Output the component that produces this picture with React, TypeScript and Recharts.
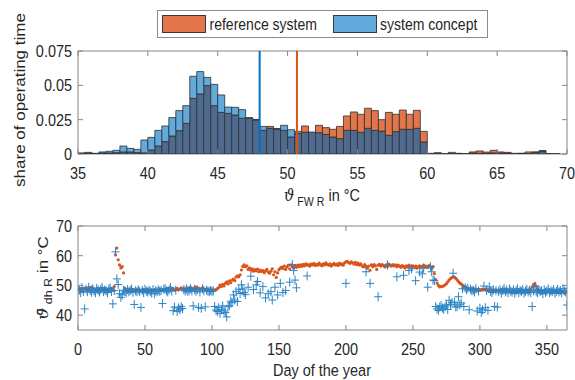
import React from "react";
import {
  BarChart,
  Bar,
  XAxis,
  YAxis,
  ReferenceLine,
  ReferenceArea,
  ScatterChart,
  Scatter,
} from "recharts";

// histogram: share of operating time per 0.5 K bin, 35..70 °C
const refShare = [
  0.0005, 0.0005, 0.0005, 0.0008, 0.0008, 0.001, 0.0015, 0.0015, 0.001, 0.0008,
  0.0029, 0.0058, 0.009, 0.0131, 0.017, 0.0223, 0.0405, 0.0437, 0.0498, 0.0352,
  0.0303, 0.0296, 0.0284, 0.026, 0.026, 0.0248, 0.0172, 0.0201, 0.0185, 0.0172,
  0.0124, 0.0165, 0.0204, 0.016, 0.0209, 0.0192, 0.018, 0.0201, 0.0277, 0.0306,
  0.0289, 0.0333, 0.0316, 0.025, 0.0303, 0.0289, 0.032, 0.0289, 0.0318, 0.0165,
  0.0005, 0.0003, 0.0003, 0.0012, 0.0003, 0.0003, 0.0015, 0.0022, 0.0014, 0.0027,
  0.0015, 0.0012, 0.0005, 0.0005, 0.0015, 0.0015, 0.0022, 0.0003, 0.0002, 0,
];
const conceptShare = [
  0.0007, 0.0012, 0.0005, 0.0015, 0.002, 0.0027, 0.0058, 0.0041, 0.0034, 0.0102,
  0.0121, 0.0172, 0.0204, 0.0265, 0.0316, 0.0352, 0.0566, 0.06, 0.0558, 0.0507,
  0.043, 0.0342, 0.034, 0.0323, 0.0265, 0.0252, 0.0201, 0.0187, 0.0182, 0.0209,
  0.0177, 0.015, 0.0158, 0.016, 0.0155, 0.0143, 0.0124, 0.0112, 0.0172, 0.0172,
  0.0158, 0.0187, 0.0172, 0.0167, 0.0136, 0.0163, 0.018, 0.018, 0.0187, 0.0087,
  0.0005, 0.001, 0.0003, 0.0003, 0.0005, 0.0003, 0.0007, 0.0005, 0.0005, 0.0008,
  0.0007, 0.0005, 0.0005, 0.0004, 0.0003, 0.0012, 0.0024, 0.0003, 0.0002, 0,
];
const refMean = 50.67;
const conceptMean = 48.0;

const tempTicks = [35, 40, 45, 50, 55, 60, 65, 70];
const shareTicks = [0, 0.025, 0.05, 0.075];
const dayTicks = [0, 50, 100, 150, 200, 250, 300, 350];
const returnTicks = [40, 50, 60, 70];

// daily mean return temperature, day 1..365
const refDaily = [
  48.6, 48.9, 48.4, 48.7, 49.1, 48.5, 48.8, 49.2, 48.6, 49.4,
  48.9, 48.5, 48.7, 49.0, 48.4, 48.8, 48.6, 49.1, 48.5, 48.9,
  48.7, 48.4, 48.8, 48.6, 49.0, 48.5, 49.6, 60.3, 62.6, 58.6,
  56.9, 55.9, 56.3, 54.2, 49.0, 48.6, 48.3, 48.5, 48.2, 48.7,
  48.4, 48.5, 48.1, 48.6, 48.3, 48.5, 48.2, 48.4, 48.7, 48.3,
  48.5, 48.6, 48.2, 48.4, 48.5, 48.3, 48.6, 48.4, 48.2, 48.5,
  48.7, 48.3, 48.5, 48.4, 48.6, 48.8, 48.5, 48.9, 49.1, 48.6,
  48.8, 48.4, 48.7, 49.0, 48.5, 48.8, 49.2, 48.6, 48.9, 48.5,
  48.7, 49.1, 48.8, 49.3, 48.6, 49.0, 48.7, 49.4, 48.8, 49.1,
  48.6, 48.9, 49.2, 48.7, 48.5, 48.8, 48.4, 48.6, 48.3, 48.5,
  48.2, 48.4, 48.6, 48.9, 49.3, 50.1, 49.6, 50.4, 49.8, 50.7,
  51.2, 50.5, 51.5, 50.9, 51.8, 52.1, 51.6, 52.8, 53.2, 52.9,
  53.6, 55.2, 56.4, 56.9, 56.3, 56.6, 55.4, 55.9, 55.1, 55.6,
  54.8, 55.3, 54.9, 55.5, 54.6, 55.2, 54.7, 55.0, 54.3, 54.9,
  55.4, 54.5, 54.1, 54.8, 55.6, 53.6, 54.6, 52.7, 54.2, 55.3,
  55.8, 56.2, 55.7, 56.5, 55.4, 56.2, 56.8, 55.6, 56.9, 56.4,
  55.9, 56.7, 56.1, 56.8, 56.3, 56.9, 56.4, 57.1, 56.6, 57.3,
  56.8, 57.0, 56.5, 57.2, 56.9, 57.4, 56.7, 57.1, 56.8, 57.5,
  57.0, 56.6, 57.3, 56.9, 57.6, 57.1, 56.8, 57.3, 56.5, 57.0,
  57.4, 56.9, 57.2, 56.7, 57.5, 57.0, 57.3, 56.8, 57.6, 57.9,
  58.1, 57.7, 57.4, 57.9, 57.6, 57.2, 57.8, 57.0, 57.5, 56.9,
  57.3, 56.6, 56.2, 57.0, 56.4, 55.8, 56.5, 55.1, 56.9, 56.3,
  57.0, 56.6, 55.4, 56.8, 57.1, 56.5, 57.0, 56.7, 56.2, 56.9,
  56.4, 57.2, 56.8, 56.5, 57.0, 56.6, 56.9, 56.3, 56.8, 56.5,
  56.1, 56.7, 56.4, 55.9, 56.6, 56.2, 56.8, 56.4, 55.9, 56.6,
  56.2, 56.5, 55.8, 56.3, 56.6, 56.0, 56.4, 56.8, 56.2, 56.5,
  56.0, 56.7, 56.4, 55.6, 56.3, 54.0, 52.0, 50.8, 50.0, 49.5,
  49.7, 49.6, 49.9, 50.2, 50.6, 51.2, 51.8, 52.3, 52.6, 52.9,
  52.8, 52.4, 51.9, 51.3, 50.8, 50.5, 50.1, 49.7, 49.4, 49.2,
  49.0, 48.9, 48.8, 48.7, 48.9, 48.6, 48.8, 48.5, 48.7, 48.4,
  48.6, 48.8, 48.5, 48.7, 48.3, 48.6, 48.4, 48.5, 48.2, 48.6,
  48.3, 48.5, 48.1, 48.4, 48.2, 48.3, 48.0, 48.2, 48.4, 48.1,
  48.3, 47.9, 48.2, 48.0, 48.3, 48.1, 47.8, 48.2, 48.0, 47.9,
  48.1, 47.7, 48.0, 47.9, 48.2, 48.0, 48.3, 48.6, 49.4, 50.3,
  50.6, 49.8, 48.9, 48.2, 48.0, 47.8, 48.1, 47.9, 47.7, 48.0,
  47.8, 48.1, 47.6, 47.9, 47.7, 48.0, 47.8, 47.6, 47.9, 47.7,
  48.0, 47.8, 47.5, 47.9, 47.7,
];

const N = null;
const conceptDaily = [
  48.4, 47.6, 49.2, 48.0, 42.1, 48.7, 47.9, 49.4, 48.3, 47.7,
  48.9, 48.1, 47.5, 49.0, 48.4, 47.8, 48.6, 49.3, 47.9, 48.5,
  48.2, 47.6, 48.8, 49.1, 48.0, 43.8, 48.3, 61.3, 52.2, 50.3,
  47.2, 46.0, 46.8, 48.4, 48.1, 47.5, 48.6, 47.9, 48.3, 48.8,
  47.7, 43.6, 48.2, 47.9, 48.5, 48.0, 42.6, 48.3, 47.6, 48.7,
  48.1, 47.8, 48.4, 48.0, 47.4, 48.6, 47.2, 48.2, 47.9, 48.5,
  48.0, 48.3, 43.9, 48.7, 48.9, 48.2, 47.8, 48.5, 49.3, 48.1,
  41.5, 42.7, 48.4, 41.2, 42.4, 41.8, 42.9, 42.2, 48.6, 48.1,
  48.8, 47.9, 48.4, 48.9, 48.2, 43.1, 48.7, 48.0, 48.5, 42.6,
  47.8, 42.3, 48.9, 48.2, 42.8, 48.4, 48.1, 47.9, 48.3, 48.0,
  48.2, 42.9, 41.7, 41.2, 42.5, 40.6, 41.8, 43.1, 41.4, 40.9,
  39.4, 42.8, 43.2, 44.7, 44.2, 46.8, 45.1, 47.9, 44.6, 48.7,
  47.3, 50.2, 48.8, 47.6, 46.9, N, 49.4, N, 53.1, N,
  48.6, N, 50.2, 51.3, N, 47.5, N, 49.6, N, 45.8,
  N, 47.2, N, 47.9, 45.1, N, 49.4, N, 46.8, N,
  50.7, N, 47.6, N, 48.3, N, N, 51.1, N, 57.0,
  55.0, 51.8, 49.2, N, N, N, N, N, N, N,
  53.2, N, N, N, N, N, N, N, N, N,
  N, N, N, N, N, N, N, N, N, N,
  N, N, N, N, N, N, N, N, N, 50.7,
  N, N, N, N, N, N, N, N, N, N,
  N, N, N, N, 54.6, N, N, 50.7, N, N,
  N, N, N, 46.2, N, N, N, N, N, N,
  56.9, N, N, N, N, N, N, 52.9, N, N,
  N, N, 53.4, N, N, N, 55.0, N, 55.6, N,
  N, 51.6, N, N, 54.5, N, 53.9, 55.8, N, N,
  49.4, N, 56.3, 54.6, 51.8, 51.6, 42.9, 42.1, 41.6, 42.7,
  43.2, 42.4, 42.0, 42.8, 43.4, 41.9, 45.0, 43.6, 44.2, 54.1,
  44.4, 42.7, 43.0, 46.2, 43.5, 44.1, 48.9, 42.9, 49.2, 48.5,
  49.1, 41.8, 48.7, 48.2, 48.4, 47.8, 48.9, 41.4, 48.1, 42.3,
  40.9, 41.8, 49.8, 42.5, 48.3, 41.6, 49.5, 48.0, 47.6, 48.5,
  42.9, 48.2, 42.7, 47.9, 48.6, 47.4, 48.3, 49.0, 47.8, 48.4,
  47.5, 48.8, 48.1, 47.7, 48.5, 47.3, 48.2, 48.9, 47.6, 48.3,
  47.9, 48.6, 47.4, 48.1, 48.7, 47.8, 48.4, 47.6, 42.9, 48.2,
  49.7, 48.0, 47.5, 48.6, 47.9, 48.3, 47.2, 48.5, 47.7, 48.1,
  48.8, 47.6, 48.2, 47.9, 48.6, 47.4, 48.0, 48.7, 47.8, 48.3,
  47.5, 48.9, 48.1, 47.8, 43.4,
];

const ORANGE = "#d95319";
const BLUE = "#0072bd";
const ORANGE_BAR = "#e2764a";
const BLUE_BAR = "#62a9dc";
const OVERLAP_BAR = "#4f6a8f";
const EDGE = "#2e2e2e";
const AXIS = "#858585";
const INK = "#262626";
const FONT = "'Liberation Sans', Arial, Helvetica, sans-serif";
const SX = 0.85; // figure is squeezed horizontally

const PLOT_W = 489;
const TOP_H = 103;
const BOT_H = 104;

const histData = refShare.map((r, i) => {
  const c = conceptShare[i];
  return {
    t: 35.25 + 0.5 * i,
    both: Math.min(r, c),
    refOnly: Math.max(r - c, 0),
    conOnly: Math.max(c - r, 0),
  };
});
const refPoints = refDaily.map((v, i) => ({ day: i + 1, v }));
const conceptPoints = conceptDaily
  .map((v, i) => ({ day: i + 1, v }))
  .filter((p) => p.v !== null);

const Txt = ({ x, y, anchor, size = 17, children }: any) => (
  <text
    transform={`translate(${x},${y}) scale(${SX},1)`}
    textAnchor={anchor}
    fontSize={size}
    fill={INK}
    fontFamily={FONT}
  >
    {children}
  </text>
);

const xTick = (plotH: number) => (p: any) => {
  const { x, y, payload } = p;
  return (
    <g>
      <line x1={x} x2={x} y1={y} y2={y - 5} stroke={AXIS} />
      <line x1={x} x2={x} y1={y - plotH} y2={y - plotH + 5} stroke={AXIS} />
      <Txt x={x} y={y + 25} anchor="middle">
        {payload.value}
      </Txt>
    </g>
  );
};

const yTick = (p: any) => {
  const { x, y, payload } = p;
  return (
    <g>
      <line x1={x} x2={x + 5} y1={y} y2={y} stroke={AXIS} />
      <line x1={x + PLOT_W} x2={x + PLOT_W - 5} y1={y} y2={y} stroke={AXIS} />
      <Txt x={x - 6} y={y + 6} anchor="end">
        {payload.value}
      </Txt>
    </g>
  );
};

const Dot = (p: any) => <circle cx={p.cx} cy={p.cy} r={1.6} fill={ORANGE} />;
const Plus = (p: any) => (
  <path
    d={`M${p.cx - 4},${p.cy}H${p.cx + 4}M${p.cx},${p.cy - 4.5}V${p.cy + 4.5}`}
    stroke="#2a83c6"
    strokeWidth={1}
    fill="none"
  />
);

const Histogram = () => (
  <BarChart
    width={575}
    height={190}
    data={histData}
    margin={{ top: 51, right: 8, bottom: 6, left: 18 }}
    barCategoryGap={0}
    barGap={0}
  >
    <XAxis
      dataKey="t"
      type="number"
      domain={[35, 70]}
      ticks={tempTicks}
      allowDataOverflow
      interval={0}
      axisLine={false}
      tickLine={false}
      tickSize={0}
      tickMargin={0}
      height={30}
      tick={xTick(TOP_H)}
    />
    <YAxis
      type="number"
      domain={[0, 0.075]}
      ticks={shareTicks}
      allowDataOverflow
      interval={0}
      axisLine={false}
      tickLine={false}
      tickSize={0}
      tickMargin={0}
      width={60}
      tick={yTick}
    />
    <ReferenceArea x1={35} x2={70} y1={0} y2={0.075} fill="none" stroke={AXIS} />
    <Bar dataKey="both" stackId="h" fill={OVERLAP_BAR} stroke={EDGE} strokeWidth={0.8} isAnimationActive={false} />
    <Bar dataKey="refOnly" stackId="h" fill={ORANGE_BAR} stroke={EDGE} strokeWidth={0.8} isAnimationActive={false} />
    <Bar dataKey="conOnly" stackId="h" fill={BLUE_BAR} stroke={EDGE} strokeWidth={0.8} isAnimationActive={false} />
    <ReferenceLine x={conceptMean} stroke={BLUE} strokeWidth={2} />
    <ReferenceLine x={refMean} stroke={ORANGE} strokeWidth={2} />
  </BarChart>
);

const Daily = () => (
  <ScatterChart
    width={575}
    height={190}
    margin={{ top: 36, right: 8, bottom: 20, left: 18 }}
  >
    <XAxis
      dataKey="day"
      type="number"
      domain={[0, 365]}
      ticks={dayTicks}
      allowDataOverflow
      interval={0}
      axisLine={false}
      tickLine={false}
      tickSize={0}
      tickMargin={0}
      height={30}
      tick={xTick(BOT_H)}
    />
    <YAxis
      dataKey="v"
      type="number"
      domain={[35, 70]}
      ticks={returnTicks}
      allowDataOverflow
      interval={0}
      axisLine={false}
      tickLine={false}
      tickSize={0}
      tickMargin={0}
      width={60}
      tick={yTick}
    />
    <ReferenceArea x1={0} x2={365} y1={35} y2={70} fill="none" stroke={AXIS} />
    <Scatter data={refPoints} shape={Dot} isAnimationActive={false} />
    <Scatter data={conceptPoints} shape={Plus} isAnimationActive={false} />
  </ScatterChart>
);

const Labels = () => (
  <svg
    width={575}
    height={380}
    style={{ position: "absolute", left: 0, top: 0, pointerEvents: "none" }}
  >
    {/* legend */}
    <rect x={157.5} y={10.5} width={330} height={27} fill="#fff" stroke="#8c8c8c" />
    <rect x={162.5} y={15.5} width={43} height={17} fill={ORANGE_BAR} stroke="#3a3a3a" />
    <Txt x={209.5} y={29.5} anchor="start" size={16.5}>reference system</Txt>
    <rect x={333.5} y={15.5} width={43} height={17} fill={BLUE_BAR} stroke="#3a3a3a" />
    <Txt x={380} y={29.5} anchor="start" size={16.5}>system concept</Txt>

    <text
      transform={`translate(25,100) scale(${SX},1) rotate(-90)`}
      textAnchor="middle"
      fontSize={17}
      fill={INK}
      fontFamily={FONT}
    >
      share of operating time
    </text>
    <text
      transform={`translate(322,201) scale(${SX},1)`}
      textAnchor="middle"
      fontSize={17}
      fill={INK}
      fontFamily={FONT}
    >
      <tspan fontFamily="'DejaVu Serif', serif" fontStyle="italic">ϑ</tspan>
      <tspan fontSize={12.5} dy={5}> FW R</tspan>
      <tspan dy={-5}> in °C</tspan>
    </text>
    <Txt x={322} y={376} anchor="middle">Day of the year</Txt>
    <text
      transform={`translate(48,278) scale(${SX},1) rotate(-90)`}
      textAnchor="middle"
      fontSize={17}
      fill={INK}
      fontFamily={FONT}
    >
      <tspan fontFamily="'DejaVu Serif', serif" fontStyle="italic">ϑ̄</tspan>
      <tspan fontSize={12.5} dy={5}> dh R</tspan>
      <tspan dy={-5}> in °C</tspan>
    </text>
  </svg>
);

export default function App() {
  return (
    <div
      style={{
        position: "absolute",
        left: 0,
        top: 0,
        width: 575,
        height: 380,
        background: "#fff",
        overflow: "hidden",
      }}
    >
      <div style={{ position: "absolute", left: 0, top: 0 }}>
        <Histogram />
      </div>
      <div style={{ position: "absolute", left: 0, top: 190 }}>
        <Daily />
      </div>
      <Labels />
    </div>
  );
}
